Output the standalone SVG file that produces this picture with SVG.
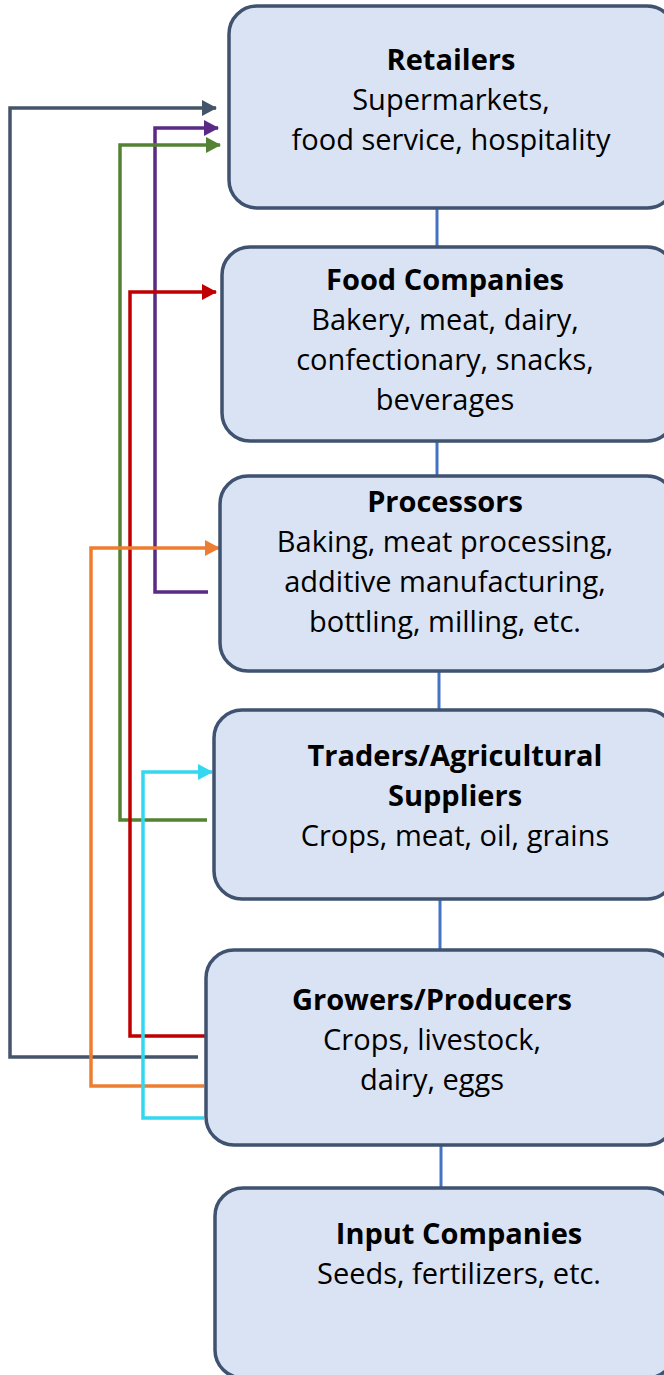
<svg xmlns="http://www.w3.org/2000/svg" width="664" height="1375" viewBox="0 0 664 1375">
<style>
.box{fill:#dae3f3;stroke:#3f5270;stroke-width:3.5}
.t{font-family:"Open Sans","Noto Sans","Liberation Sans",sans-serif;font-size:29px;fill:#000;text-anchor:middle}
.b{font-weight:bold}
.link{stroke:#4472c4;stroke-width:3;fill:none}
.c{fill:none;stroke-width:3.5}
</style>
<defs>
<marker id="aS" markerUnits="userSpaceOnUse" markerWidth="16" markerHeight="16" refX="14" refY="8" orient="auto"><path d="M0,0 L15,8 L0,16 Z" fill="#44546a"/></marker>
<marker id="aP" markerUnits="userSpaceOnUse" markerWidth="16" markerHeight="16" refX="14" refY="8" orient="auto"><path d="M0,0 L15,8 L0,16 Z" fill="#5b2a86"/></marker>
<marker id="aG" markerUnits="userSpaceOnUse" markerWidth="16" markerHeight="16" refX="14" refY="8" orient="auto"><path d="M0,0 L15,8 L0,16 Z" fill="#548235"/></marker>
<marker id="aR" markerUnits="userSpaceOnUse" markerWidth="16" markerHeight="16" refX="14" refY="8" orient="auto"><path d="M0,0 L15,8 L0,16 Z" fill="#c00000"/></marker>
<marker id="aO" markerUnits="userSpaceOnUse" markerWidth="16" markerHeight="16" refX="14" refY="8" orient="auto"><path d="M0,0 L15,8 L0,16 Z" fill="#ed7d31"/></marker>
<marker id="aC" markerUnits="userSpaceOnUse" markerWidth="16" markerHeight="16" refX="14" refY="8" orient="auto"><path d="M0,0 L15,8 L0,16 Z" fill="#33d7f0"/></marker>
</defs>
<g id="connectors">
<line class="link" x1="437" y1="208" x2="437" y2="247"/>
<line class="link" x1="437" y1="441" x2="437" y2="476"/>
<line class="link" x1="439" y1="671" x2="439" y2="710"/>
<line class="link" x1="440" y1="899" x2="440" y2="950"/>
<line class="link" x1="441" y1="1145" x2="441" y2="1188"/>
<path class="c" stroke="#44546a" d="M198,1057 H10 V108 H216" marker-end="url(#aS)"/>
<path class="c" stroke="#5b2a86" d="M208,592 H155 V128 H218" marker-end="url(#aP)"/>
<path class="c" stroke="#548235" d="M207,820 H120 V145 H220" marker-end="url(#aG)"/>
<path class="c" stroke="#c00000" d="M205,1036 H130 V292 H216" marker-end="url(#aR)"/>
<path class="c" stroke="#ed7d31" d="M204,1086 H91 V548 H219" marker-end="url(#aO)"/>
<path class="c" stroke="#33d7f0" d="M204,1118 H143 V772 H212" marker-end="url(#aC)"/>
</g>
<g id="retailers">
<rect class="box" x="229" y="6" width="446" height="202" rx="28"/>
<text class="t b" x="451" y="70">Retailers</text>
<text class="t" x="451" y="110">Supermarkets,</text>
<text class="t" x="451" y="150">food service, hospitality</text>
</g>
<g id="food-companies">
<rect class="box" x="222" y="247" width="453" height="194" rx="28"/>
<text class="t b" x="445" y="290">Food Companies</text>
<text class="t" x="445" y="330">Bakery, meat, dairy,</text>
<text class="t" x="445" y="370">confectionary, snacks,</text>
<text class="t" x="445" y="410">beverages</text>
</g>
<g id="processors">
<rect class="box" x="220" y="476" width="455" height="195" rx="28"/>
<text class="t b" x="445" y="512">Processors</text>
<text class="t" x="445" y="552">Baking, meat processing,</text>
<text class="t" x="445" y="592">additive manufacturing,</text>
<text class="t" x="445" y="632">bottling, milling, etc.</text>
</g>
<g id="traders">
<rect class="box" x="214" y="710" width="461" height="189" rx="28"/>
<text class="t b" x="455" y="766">Traders/Agricultural</text>
<text class="t b" x="455" y="806">Suppliers</text>
<text class="t" x="455" y="846">Crops, meat, oil, grains</text>
</g>
<g id="growers">
<rect class="box" x="206" y="950" width="469" height="195" rx="28"/>
<text class="t b" x="432" y="1010">Growers/Producers</text>
<text class="t" x="432" y="1050">Crops, livestock,</text>
<text class="t" x="432" y="1090">dairy, eggs</text>
</g>
<g id="input-companies">
<rect class="box" x="215" y="1188" width="460" height="190" rx="28"/>
<text class="t b" x="459" y="1244">Input Companies</text>
<text class="t" x="459" y="1284">Seeds, fertilizers, etc.</text>
</g>
</svg>
